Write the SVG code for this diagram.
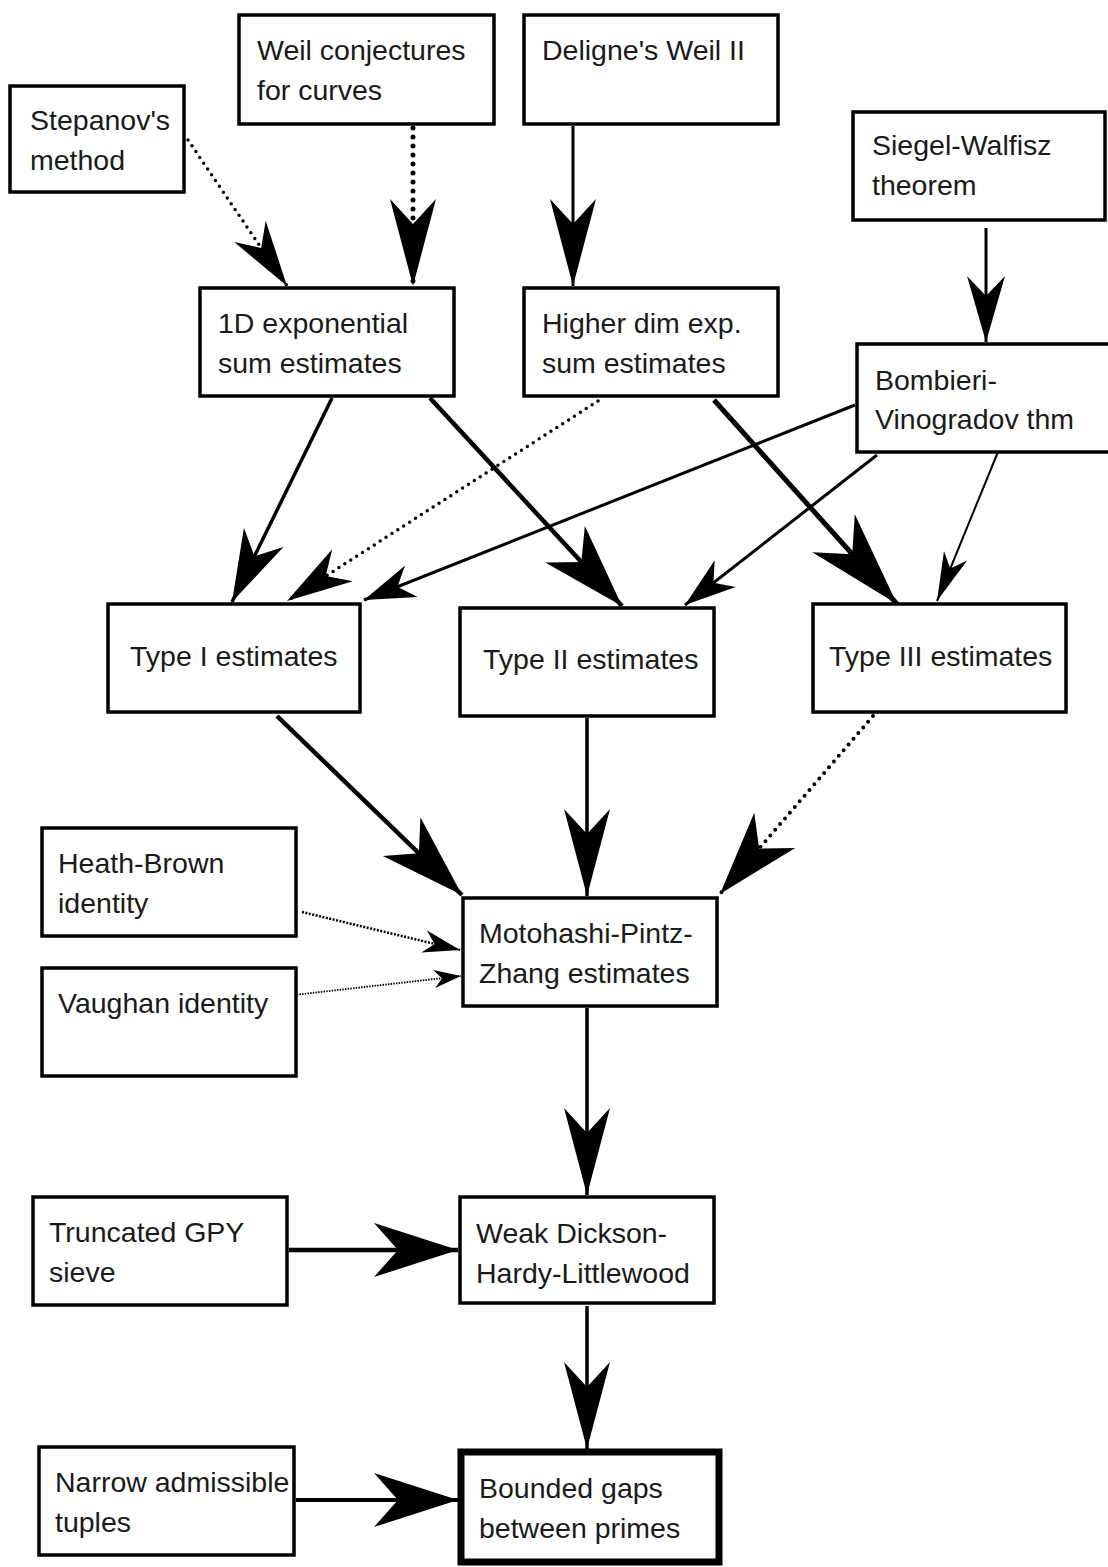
<svg xmlns="http://www.w3.org/2000/svg" width="1108" height="1567" viewBox="0 0 1108 1567">
<style>
.box{fill:#fff;stroke:#000;stroke-width:3.5}
.thick{stroke-width:7}
text{font-family:"Liberation Sans",Arial,sans-serif;font-size:28.5px;fill:#1a1a1a}
.c{fill:none;stroke:#000}
.dot{stroke-linecap:round}
</style>
<defs>
<marker id="aXL" markerUnits="userSpaceOnUse" orient="auto" refX="0" refY="0" markerWidth="1" markerHeight="1" overflow="visible"><path d="M0,0 L-95,-28.5 L-67,0 L-95,28.5 Z" fill="#000"/></marker>
<marker id="aL" markerUnits="userSpaceOnUse" orient="auto" refX="0" refY="0" markerWidth="1" markerHeight="1" overflow="visible"><path d="M0,0 L-87,-23 L-62,0 L-87,23 Z" fill="#000"/></marker>
<marker id="aLW" markerUnits="userSpaceOnUse" orient="auto" refX="0" refY="0" markerWidth="1" markerHeight="1" overflow="visible"><path d="M0,0 L-84,-27 L-60,0 L-84,27 Z" fill="#000"/></marker>
<marker id="aM" markerUnits="userSpaceOnUse" orient="auto" refX="0" refY="0" markerWidth="1" markerHeight="1" overflow="visible"><path d="M0,0 L-66,-19 L-46,0 L-66,19 Z" fill="#000"/></marker>
<marker id="aMW" markerUnits="userSpaceOnUse" orient="auto" refX="0" refY="0" markerWidth="1" markerHeight="1" overflow="visible"><path d="M0,0 L-72,-22 L-51,0 L-72,22 Z" fill="#000"/></marker>
<marker id="aS" markerUnits="userSpaceOnUse" orient="auto" refX="0" refY="0" markerWidth="1" markerHeight="1" overflow="visible"><path d="M0,0 L-51,-17 L-36,0 L-51,17 Z" fill="#000"/></marker>
<marker id="aSN" markerUnits="userSpaceOnUse" orient="auto" refX="0" refY="0" markerWidth="1" markerHeight="1" overflow="visible"><path d="M0,0 L-49,-12.5 L-35,0 L-49,12.5 Z" fill="#000"/></marker>
<marker id="aXS" markerUnits="userSpaceOnUse" orient="auto" refX="0" refY="0" markerWidth="1" markerHeight="1" overflow="visible"><path d="M0,0 L-37,-11.5 L-26,0 L-37,11.5 Z" fill="#000"/></marker>
<marker id="aXXS" markerUnits="userSpaceOnUse" orient="auto" refX="0" refY="0" markerWidth="1" markerHeight="1" overflow="visible"><path d="M0,0 L-27,-9 L-19,0 L-27,9 Z" fill="#000"/></marker>
</defs>
<rect width="1108" height="1567" fill="#fff"/>
<g id="connectors">
<path class="c dot" d="M188,140 L287,286" stroke-width="3.5" stroke-dasharray="0 7" marker-end="url(#aM)"/>
<path class="c dot" d="M413,128 L413,286" stroke-width="5" stroke-dasharray="0 9" marker-end="url(#aL)"/>
<path class="c" d="M573,126 L573,286" stroke-width="3" marker-end="url(#aL)"/>
<path class="c" d="M986,228 L986,342" stroke-width="3" marker-end="url(#aM)"/>
<path class="c" d="M332,398 L232,602" stroke-width="3.5" marker-end="url(#aMW)"/>
<path class="c" d="M430,398 L622,606" stroke-width="4.5" marker-end="url(#aLW)"/>
<path class="c dot" d="M598,401 L287,601" stroke-width="3.5" stroke-dasharray="0 7" marker-end="url(#aM)"/>
<path class="c" d="M855,405 L364,600" stroke-width="3" marker-end="url(#aS)"/>
<path class="c" d="M714,400 L897,604" stroke-width="5" marker-end="url(#aXL)"/>
<path class="c" d="M877,455 L685,605" stroke-width="3" marker-end="url(#aS)"/>
<path class="c" d="M1000,447 L937,601" stroke-width="2" marker-end="url(#aSN)"/>
<path class="c" d="M277,716 L462,895" stroke-width="4.5" marker-end="url(#aLW)"/>
<path class="c" d="M587,718 L587,896" stroke-width="3.5" marker-end="url(#aL)"/>
<path class="c dot" d="M873,716 L720,894" stroke-width="4" stroke-dasharray="0 7.5" marker-end="url(#aLW)"/>
<path class="c" d="M302,912 L460,950" stroke-width="2.5" stroke-dasharray="2 1.5" marker-end="url(#aXS)"/>
<path class="c" d="M294,995 L461,976" stroke-width="1.8" stroke-dasharray="1.5 1.2" marker-end="url(#aXXS)"/>
<path class="c" d="M587,1008 L587,1195" stroke-width="3.5" marker-end="url(#aL)"/>
<path class="c" d="M289,1250 L458,1250" stroke-width="4.5" marker-end="url(#aLW)"/>
<path class="c" d="M587,1306 L587,1449" stroke-width="3.5" marker-end="url(#aL)"/>
<path class="c" d="M296,1500 L458,1500" stroke-width="4" marker-end="url(#aLW)"/>
</g>
<g id="stepanov"><rect class="box" x="10" y="86" width="174" height="106"/><text x="30" y="130">Stepanov's</text><text x="30" y="170">method</text></g>
<g id="weil"><rect class="box" x="239" y="15" width="255" height="109"/><text x="257" y="60">Weil conjectures</text><text x="257" y="100">for curves</text></g>
<g id="deligne"><rect class="box" x="524" y="15" width="254" height="109"/><text x="542" y="60">Deligne's Weil II</text></g>
<g id="siegel"><rect class="box" x="853" y="112" width="252" height="108"/><text x="872" y="155">Siegel-Walfisz</text><text x="872" y="195">theorem</text></g>
<g id="oned"><rect class="box" x="200" y="288" width="254" height="108"/><text x="218" y="333">1D exponential</text><text x="218" y="373">sum estimates</text></g>
<g id="higher"><rect class="box" x="524" y="288" width="254" height="108"/><text x="542" y="333">Higher dim exp.</text><text x="542" y="373">sum estimates</text></g>
<g id="bombieri"><rect class="box" x="857" y="344" width="255" height="108"/><text x="875" y="390">Bombieri-</text><text x="875" y="429">Vinogradov thm</text></g>
<g id="type1"><rect class="box" x="108" y="604" width="252" height="108"/><text x="130" y="666">Type I estimates</text></g>
<g id="type2"><rect class="box" x="460" y="608" width="254" height="108"/><text x="483" y="669">Type II estimates</text></g>
<g id="type3"><rect class="box" x="813" y="604" width="253" height="108"/><text x="829" y="666">Type III estimates</text></g>
<g id="heathbrown"><rect class="box" x="42" y="828" width="254" height="108"/><text x="58" y="873">Heath-Brown</text><text x="58" y="913">identity</text></g>
<g id="vaughan"><rect class="box" x="42" y="968" width="254" height="108"/><text x="58" y="1013">Vaughan identity</text></g>
<g id="mpz"><rect class="box" x="463" y="898" width="254" height="108"/><text x="479" y="943">Motohashi-Pintz-</text><text x="479" y="983">Zhang estimates</text></g>
<g id="gpy"><rect class="box" x="33" y="1197" width="254" height="108"/><text x="49" y="1242">Truncated GPY</text><text x="49" y="1282">sieve</text></g>
<g id="dhl"><rect class="box" x="460" y="1197" width="254" height="106"/><text x="476" y="1243">Weak Dickson-</text><text x="476" y="1283">Hardy-Littlewood</text></g>
<g id="narrow"><rect class="box" x="39" y="1447" width="255" height="108"/><text x="55" y="1492">Narrow admissible</text><text x="55" y="1532">tuples</text></g>
<g id="bounded"><rect class="box thick" x="461" y="1452" width="258" height="110"/><text x="479" y="1498">Bounded gaps</text><text x="479" y="1538">between primes</text></g>
</svg>
